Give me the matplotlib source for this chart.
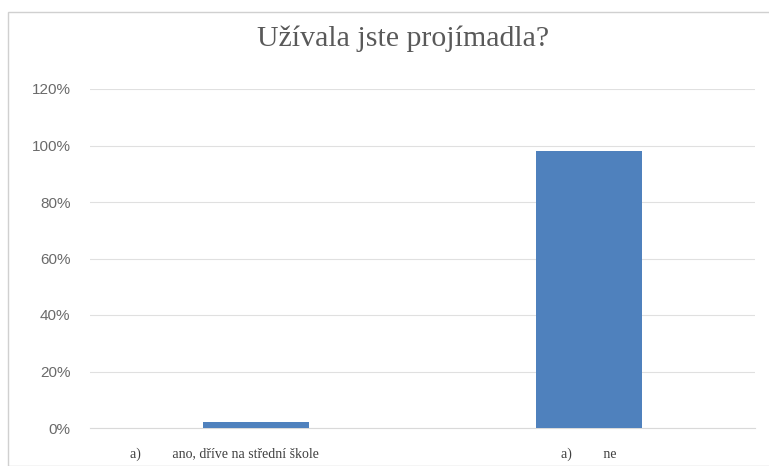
import matplotlib.pyplot as plt
from matplotlib.patches import Rectangle
from matplotlib.ticker import PercentFormatter
from matplotlib.transforms import ScaledTranslation

gap = ' ' * 9
categories = ['a)' + gap + 'ano, dříve na střední škole', 'a)' + gap + 'ne']
values = [2, 98]
yticks = [0, 20, 40, 60, 80, 100, 120]

fig = plt.figure(figsize=(7.69, 4.66), dpi=100)
fig.patches.append(Rectangle((8 / 769, 0), 1, 1 - 12 / 466, transform=fig.transFigure,
                             fill=False, edgecolor='#d0d0d0', linewidth=1))
ax = fig.add_axes([90 / 769, 1 - 428 / 466, 665 / 769, 339 / 466])

ax.bar(range(len(values)), values, width=0.32, color='#4f81bd', zorder=3)
ax.set_xlim(-0.5, len(values) - 0.5)
ax.set_ylim(0, 120)
ax.set_yticks(yticks)
ax.yaxis.set_major_formatter(PercentFormatter(decimals=0))
ax.set_xticks(range(len(values)))
ax.set_xticklabels(categories, family='Liberation Serif', fontsize=10, color='#404040')
ax.tick_params(axis='y', colors='#6a6a6a', labelsize=11, length=0, pad=14)
for lab in ax.get_yticklabels():
    lab.set_family('Liberation Sans')
ax.tick_params(axis='x', length=0, pad=14)
# first label sits left of its bar in the original
lab0 = ax.get_xticklabels()[0]
lab0.set_transform(lab0.get_transform() + ScaledTranslation(-32 / 100, 0, fig.dpi_scale_trans))
ax.grid(axis='y', color='#e0e0e0', linewidth=0.8, zorder=0)
for s in ['top', 'right', 'left']:
    ax.spines[s].set_visible(False)
ax.spines['bottom'].set_color('#d9d9d9')

fig.text(403 / 769, 1 - 39 / 466, 'Užívala jste projímadla?', ha='center', va='center',
         family='Liberation Serif', fontsize=21.5, color='#595959')

fig.savefig('out.png', dpi=100)
